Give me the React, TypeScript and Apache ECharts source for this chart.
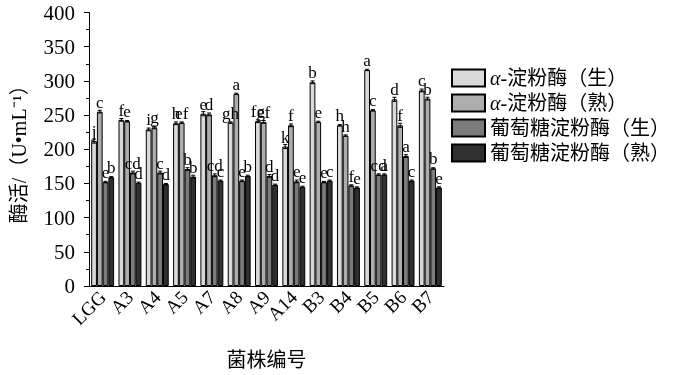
import React, { useEffect, useRef } from "react";
import * as echarts from "echarts";

const categories = ["LGG", "A3", "A4", "A5", "A7", "A8", "A9", "A14", "B3", "B4", "B5", "B6", "B7"];
const seriesNames = ["α-淀粉酶（生）", "α-淀粉酶（熟）", "葡萄糖淀粉酶（生）", "葡萄糖淀粉酶（熟）"];
const legendLabels = ["{i|α}-淀粉酶（生）", "{i|α}-淀粉酶（熟）", "葡萄糖淀粉酶（生）", "葡萄糖淀粉酶（熟）"];

const alphaRaw = [212, 243, 229, 238, 252, 239, 241, 204, 298, 235, 316, 273, 286];
const alphaCooked = [255, 241, 232, 239, 251, 281, 240, 235, 240, 220, 257, 235, 274];
const glucoRaw = [152, 166, 166, 171, 162, 154, 161, 153, 152, 147, 163, 190, 172];
const glucoCooked = [159, 151, 149, 160, 154, 161, 148, 145, 154, 144, 163, 154, 144];

const alphaRawErr = [3, 2, 2, 2, 3, 1, 2, 3, 2, 1, 1, 3, 2];
const alphaCookedErr = [2, 1, 2, 1, 2, 1, 2, 2, 1, 1, 1, 3, 2];
const glucoRawErr = [1, 2, 2, 2, 2, 1, 2, 2, 1, 1, 1, 2, 1];
const glucoCookedErr = [1, 1, 1, 2, 1, 1, 1, 1, 1, 1, 1, 1, 1];

const alphaRawLetters = ["j", "f", "i", "h", "e", "gh", "fg", "k", "b", "h", "a", "d", "c"];
const alphaCookedLetters = ["c", "e", "g", "ef", "d", "a", "ef", "f", "e", "h", "c", "f", "b"];
const glucoRawLetters = ["e", "cd", "c", "b", "cd", "e", "d", "e", "e", "f", "cd", "a", "b"];
const glucoCookedLetters = ["b", "d", "d", "b", "c", "b", "d", "e", "c", "e", "a", "c", "e"];

const yTicks = [0, 50, 100, 150, 200, 250, 300, 350, 400];

const colors = ["#d9d9d9", "#adadad", "#7b7b7b", "#2f2f2f"];
const FONT = "'Liberation Serif', 'Times New Roman', 'Noto Sans CJK SC', serif";
const CAT_GAP = 0.16;

export default function App() {
  const ref = useRef<HTMLDivElement>(null);
  useEffect(() => {
    if (!ref.current) return;
    const chart = echarts.init(ref.current, null, { renderer: "svg" });
    const values = [alphaRaw, alphaCooked, glucoRaw, glucoCooked];
    const errs = [alphaRawErr, alphaCookedErr, glucoRawErr, glucoCookedErr];
    const letters = [alphaRawLetters, alphaCookedLetters, glucoRawLetters, glucoCookedLetters];

    const barSeries = values.map((vals, s) => ({
      name: seriesNames[s],
      type: "bar",
      barGap: "0%",
      barCategoryGap: CAT_GAP * 100 + "%",
      data: vals,
      itemStyle: { color: colors[s], borderColor: "#000", borderWidth: 1 },
      label: {
        show: true,
        position: "top",
        distance: 1,
        fontFamily: FONT,
        fontSize: 17,
        color: "#000",
        formatter: (p: any) => letters[s][p.dataIndex],
      },
    }));

    const errData: number[][] = [];
    values.forEach((vals, s) => {
      vals.forEach((v, i) => errData.push([i, v, errs[s][i], s]));
    });

    const errSeries = {
      type: "custom",
      name: "err",
      data: errData,
      z: 5,
      renderItem: (params: any, api: any) => {
        const ci = api.value(0);
        const v = api.value(1);
        const e = api.value(2);
        const s = api.value(3);
        const catW = api.size([1, 0])[0];
        const bw = (catW * (1 - CAT_GAP)) / 4;
        const cx = api.coord([ci, v])[0] + (s - 1.5) * bw;
        const yt = api.coord([ci, v + e])[1];
        const yb = api.coord([ci, v - e])[1];
        const hw = bw * 0.35;
        const st = { stroke: "#000", lineWidth: 1 };
        return {
          type: "group",
          children: [
            { type: "line", shape: { x1: cx, y1: yt, x2: cx, y2: yb }, style: st },
            { type: "line", shape: { x1: cx - hw, y1: yt, x2: cx + hw, y2: yt }, style: st },
            { type: "line", shape: { x1: cx - hw, y1: yb, x2: cx + hw, y2: yb }, style: st },
          ],
        };
      },
    };

    chart.setOption({
      animation: false,
      grid: { left: 89, right: 233, top: 12.5, bottom: 89, containLabel: false, outerBoundsMode: "none" },
      legend: {
        data: seriesNames,
        orient: "vertical",
        left: 446,
        top: 63,
        itemWidth: 33,
        itemHeight: 17,
        itemGap: 5,
        icon: "rect",
        formatter: (name: string) => legendLabels[seriesNames.indexOf(name)],
        textStyle: {
          fontFamily: FONT,
          fontSize: 20,
          color: "#000",
          rich: { i: { fontStyle: "italic", fontFamily: FONT, fontSize: 20, color: "#000" } },
        },
      },
      xAxis: {
        type: "category",
        data: categories,
        name: "菌株编号",
        nameLocation: "middle",
        nameGap: 64,
        nameTextStyle: { fontFamily: FONT, fontSize: 20, color: "#000" },
        axisLine: { lineStyle: { color: "#000", width: 1 } },
        axisTick: { alignWithLabel: true, length: 5, lineStyle: { color: "#000" } },
        axisLabel: { rotate: 45, margin: 8, fontFamily: FONT, fontSize: 19, color: "#000", interval: 0 },
      },
      yAxis: {
        type: "value",
        min: 0,
        max: 400,
        interval: 50,
        name: "酶活/（U•mL⁻¹）",
        nameLocation: "middle",
        nameGap: 60,
        nameTextStyle: { fontFamily: FONT, fontSize: 20, color: "#000" },
        axisLine: { show: true, lineStyle: { color: "#000", width: 1 } },
        axisTick: { show: true, length: 5, lineStyle: { color: "#000" } },
        minorTick: { show: true, splitNumber: 2, length: 3, lineStyle: { color: "#000" } },
        splitLine: { show: false },
        axisLabel: {
          margin: 14,
          fontFamily: FONT,
          fontSize: 21,
          color: "#000",
          formatter: (v: number) => (yTicks.includes(v) ? String(v) : ""),
        },
      },
      series: [...barSeries, errSeries],
    });
    return () => chart.dispose();
  }, []);
  return (
    <div
      ref={ref}
      style={{ position: "fixed", left: 0, top: 0, width: 677, height: 375 }}
    />
  );
}
